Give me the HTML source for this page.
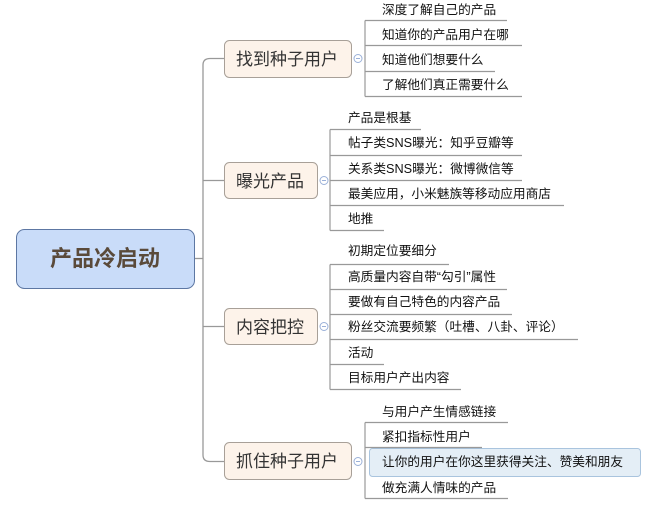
<!DOCTYPE html>
<html><head><meta charset="utf-8"><style>
html,body{margin:0;padding:0;background:#fff;}
svg{display:block;}
text{font-family:"Liberation Sans","Noto Sans CJK SC",sans-serif;}
.l{font-size:12.7px;fill:#111;}
.b{font-size:17px;fill:#333;}
</style></head><body>
<svg width="654" height="508" viewBox="0 0 654 508" xmlns="http://www.w3.org/2000/svg">
<g fill="none" stroke="#999" stroke-width="1.3">
<path d="M194 258.5 H203"/>
<path d="M224 58.5 H210 Q203 58.5 203 65 V455 Q203 461.5 210 461.5 H224"/>
<path d="M203 180.5 H224"/>
<path d="M203 326.5 H224"/>
</g>
<rect x="16.5" y="229.5" width="178" height="59" rx="8" fill="#c9dcf9" stroke="#5d77a3"/>
<text x="105" y="266" text-anchor="middle" style="font-size:22px;font-weight:bold;fill:#5a4a3a">产品冷启动</text>
<g fill="#fdf3ea" stroke="#a8a098">
<rect x="224.5" y="40.5" width="127" height="37" rx="5"/>
<rect x="224.5" y="162.5" width="93" height="36" rx="5"/>
<rect x="224.5" y="308.5" width="93" height="36" rx="5"/>
<rect x="224.5" y="442.5" width="127" height="37" rx="5"/>
</g>
<text class="b" x="236" y="65">找到种子用户</text>
<text class="b" x="236" y="187">曝光产品</text>
<text class="b" x="236" y="333">内容把控</text>
<text class="b" x="236" y="467">抓住种子用户</text>
<g fill="#fff" stroke="#9ab0d8">
<circle cx="358" cy="58.5" r="4"/><circle cx="324" cy="180.5" r="4"/><circle cx="324" cy="326.5" r="4"/><circle cx="358" cy="461.5" r="4"/>
</g>
<g stroke="#9ab0d8"><path d="M356 58.5h4M322 180.5h4M322 326.5h4M356 461.5h4"/></g>
<rect x="369.5" y="448.5" width="271" height="28" rx="3" fill="#e4eef6" stroke="#a9c4de"/>
<g fill="none" stroke="#999" stroke-width="1.2">
<path d="M365 20.5V96.5M365 20.5H507M365 45.5H522M365 71.5H495M365 96.5H522"/>
<path d="M330 129.5V230.5M330 129.5H421M330 155.5H522M330 180.5H522M330 205.5H564M330 230.5H384"/>
<path d="M330 264.5V389.5M330 264.5H449M330 289.5H507M330 314.5H512M330 339.5H578M330 364.5H384M330 389.5H461"/>
<path d="M365 422.5V498.5M365 422.5H508M365 447.5H482M365 498.5H508"/>
</g>
<text class="l" x="382" y="14">深度了解自己的产品</text>
<text class="l" x="382" y="39">知道你的产品用户在哪</text>
<text class="l" x="382" y="64">知道他们想要什么</text>
<text class="l" x="382" y="89">了解他们真正需要什么</text>
<text class="l" x="348" y="122">产品是根基</text>
<text class="l" x="348" y="147">帖子类SNS曝光：知乎豆瓣等</text>
<text class="l" x="348" y="173">关系类SNS曝光：微博微信等</text>
<text class="l" x="348" y="198">最美应用，小米魅族等移动应用商店</text>
<text class="l" x="348" y="223">地推</text>
<text class="l" x="348" y="255">初期定位要细分</text>
<text class="l" x="348" y="281">高质量内容自带“勾引”属性</text>
<text class="l" x="348" y="306">要做有自己特色的内容产品</text>
<text class="l" x="348" y="331">粉丝交流要频繁（吐槽、八卦、评论）</text>
<text class="l" x="348" y="357">活动</text>
<text class="l" x="348" y="382">目标用户产出内容</text>
<text class="l" x="382" y="416">与用户产生情感链接</text>
<text class="l" x="382" y="441">紧扣指标性用户</text>
<text class="l" x="382" y="466">让你的用户在你这里获得关注、赞美和朋友</text>
<text class="l" x="382" y="492">做充满人情味的产品</text>
</svg>
</body></html>
